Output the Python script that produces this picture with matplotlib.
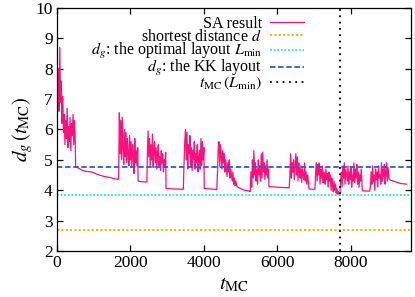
import numpy as np
import matplotlib
matplotlib.use('Agg')
import matplotlib.pyplot as plt

plt.rcParams['font.family'] = ['Liberation Serif', 'DejaVu Serif']
plt.rcParams['mathtext.fontset'] = 'stix'

# noisy SA bursts: (start t, step, values)
burst_a = (0, 20, [9.0, 7.2, 8.0, 6.6, 8.7, 6.9, 7.6, 6.2, 7.1, 5.9, 6.5, 5.5, 6.3,
                   5.7, 6.7, 5.4, 6.1, 5.6, 6.4, 5.3, 6.2, 5.8, 6.5, 5.5, 6.3, 5.6])
flat_a = ([510, 600, 700, 800, 950, 1050, 1150, 1300, 1450, 1550, 1680],
          [4.78, 4.72, 4.65, 4.62, 4.6, 4.55, 4.5, 4.45, 4.42, 4.38, 4.36])
burst_c = (1700, 20, [6.55, 5.2, 6.3, 5.0, 6.4, 5.4, 4.85, 6.0, 5.1, 5.9, 4.9, 5.7, 5.2,
                      4.8, 5.8, 5.0, 5.6, 4.75, 5.5, 5.1, 4.55, 5.7, 4.9, 5.3, 4.8, 5.4])
flat_c = ([2210, 2300, 2450], [4.3, 4.28, 4.27])
burst_d = (2460, 20, [5.0, 5.95, 5.1, 5.7, 4.8, 5.5, 5.0, 5.85, 4.75, 5.3, 5.6, 4.9, 5.4,
                      4.7, 5.2, 5.5, 4.8, 5.1, 4.65, 5.3, 4.9, 5.2, 4.6, 5.0, 4.75, 5.25])
flat_d = ([2970, 3200, 3440], [4.06, 4.04, 4.03])
burst_e = (3460, 20, [4.9, 5.6, 6.0, 5.0, 5.9, 4.7, 5.5, 5.2, 5.8, 4.8, 5.4, 4.65, 5.3, 5.0,
                      5.6, 4.7, 5.2, 4.9, 5.5, 4.6, 5.1, 5.3, 4.7, 5.7, 4.8, 5.6, 5.0, 5.4])
flat_e = ([4010, 4200, 4350], [4.06, 4.04, 4.02])
burst_f = (4370, 20, [4.6, 5.4, 5.6, 4.8, 5.5, 5.1, 4.7, 5.3, 4.9, 5.2, 4.6, 5.0, 4.8,
                      4.45, 4.9, 4.6, 5.0, 4.4, 4.7, 4.5, 4.3, 4.6, 4.2, 4.4, 4.15, 4.3])
flat_f = ([4900, 5000, 5100, 5240], [4.12, 4.05, 4.0, 3.97])
burst_g = (5260, 20, [3.95, 4.6, 4.1, 5.0, 4.4, 5.3, 4.5, 4.9, 4.3, 4.7, 4.2, 5.0, 4.5,
                      4.8, 4.3, 5.2, 4.4, 5.25, 4.6, 4.9, 4.35, 4.8, 4.5, 5.0, 4.4, 4.7])
flat_g = ([5770, 6000, 6320], [4.12, 4.1, 4.08])
burst_h = (6340, 20, [4.5, 5.2, 4.4, 4.9, 4.6, 5.0, 4.35, 4.8, 5.2, 4.5, 5.1, 4.3, 4.9,
                      4.6, 4.4, 4.8, 4.25, 4.7, 4.5, 4.35, 4.9, 4.3, 4.6, 4.2, 4.5, 4.3])
flat_h = ([6860, 7020], [4.04, 4.03])
burst_i = (7040, 20, [4.6, 4.9, 4.3, 4.85, 4.5, 4.9, 4.2, 4.7, 4.4, 4.8, 4.25, 4.6, 4.5,
                      4.2, 4.7, 4.35, 4.55, 4.1, 4.6, 4.3, 4.5, 4.0, 4.4, 4.15, 3.95, 4.3,
                      4.0, 4.2, 3.9, 4.05, 3.87, 3.95, 3.85, 3.84])
burst_j = (7720, 20, [4.3, 4.6, 4.1, 4.8, 4.4, 4.9, 4.2, 4.7, 4.5, 4.3, 4.8, 4.2, 4.6, 4.35,
                      4.75, 4.1, 4.5, 4.3, 4.9, 4.25, 4.7, 4.4, 4.85, 4.2, 4.6, 4.1, 4.5,
                      4.3, 4.7, 4.2])
flat_j = ([8310, 8510], [3.98, 3.97])
burst_k = (8530, 20, [4.1, 4.6, 4.2, 4.8, 4.3, 4.5, 4.0, 4.7, 4.35, 4.6, 4.1, 4.8, 4.4,
                      4.5, 4.2, 4.9, 4.3, 4.7, 4.45, 4.85, 4.2, 4.6, 4.9, 4.3, 4.75, 4.5])
flat_k = ([9040, 9200, 9350, 9520], [4.35, 4.28, 4.22, 4.2])

d_shortest = 2.69
d_opt = 3.84
d_kk = 4.78
t_lmin = 7710


def burst(b):
    t0, dt, vals = b
    return list(t0 + dt * np.arange(len(vals))), list(vals)


pieces = [burst(burst_a), flat_a, burst(burst_c), flat_c, burst(burst_d), flat_d,
          burst(burst_e), flat_e, burst(burst_f), flat_f, burst(burst_g), flat_g,
          burst(burst_h), flat_h, burst(burst_i), burst(burst_j), flat_j,
          burst(burst_k), flat_k]
t_sa = []
d_sa = []
for ts, vs in pieces:
    t_sa += list(ts)
    d_sa += list(vs)

fig = plt.figure(figsize=(4.15, 2.97), dpi=100)
ax = fig.add_axes([0.137, 0.155, 0.853, 0.818])

ax.plot(t_sa, d_sa, color='#ff0f7b', lw=0.9, label='SA result')
ax.axhline(d_shortest, color='#ffa500', lw=1.3, ls=(0, (1.2, 1.2)),
           label='shortest distance $d$')
ax.axhline(d_opt, color='#33e0e0', lw=1.3, ls=(0, (1, 1)),
           label=r'$d_g$: the optimal layout $L_{\rm min}$')
ax.axhline(d_kk, color='#3355dd', lw=1.3, ls=(0, (3, 1.5)),
           label=r'$d_g$: the KK layout')
ax.axvline(t_lmin, color='black', lw=1.3, ls=(0, (1, 2.5)),
           label=r'$t_{\rm MC}\,(L_{\rm min})$')

ax.set_xlim(0, 9630)
ax.set_ylim(2, 10)
ax.set_xticks([0, 2000, 4000, 6000, 8000])
ax.set_yticks(range(2, 11))
ax.tick_params(direction='in', top=True, right=True, length=4, width=0.9,
               labelsize=12.5, pad=3)
for s in ax.spines.values():
    s.set_linewidth(0.9)

ax.set_xlabel(r'$t_{\rm MC}$', fontsize=15, labelpad=3)
ax.set_ylabel(r'$d_g\,(t_{\rm MC})$', fontsize=15, labelpad=0)

ax.legend(loc='upper right', bbox_to_anchor=(0.697, 0.968), frameon=False,
          markerfirst=False, fontsize=11.5, handlelength=2.1, handletextpad=0.5,
          labelspacing=-0.2, borderpad=0, borderaxespad=0)

fig.savefig('out.png', dpi=100)
